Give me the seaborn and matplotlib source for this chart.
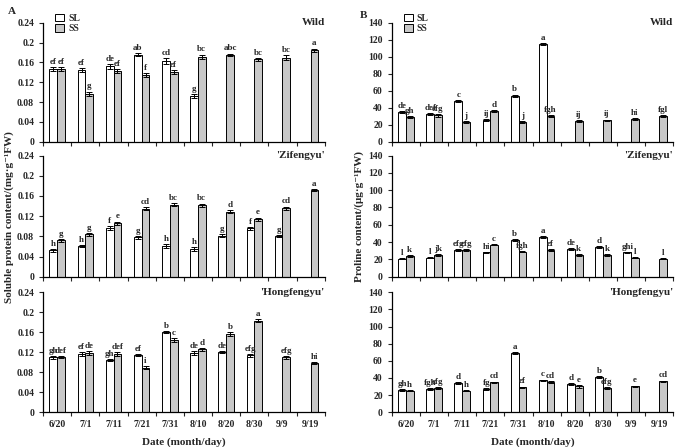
import numpy as np
import pandas as pd
import matplotlib
matplotlib.use("Agg")
import matplotlib.pyplot as plt
from matplotlib.patches import Patch
from matplotlib.ticker import FormatStrFormatter, FixedLocator
import seaborn as sns

nan = np.nan
dates = ["6/20", "7/1", "7/11", "7/21", "7/31", "8/10", "8/20", "8/30", "9/9", "9/19"]

# A - soluble protein (mg/g FW)
prot_wild_sl = [0.147, 0.145, 0.152, 0.176, 0.163, 0.092, nan, nan, nan, nan]
prot_wild_ss = [0.147, 0.097, 0.142, 0.135, 0.141, 0.171, 0.175, 0.166, 0.169, 0.185]
prot_wild_sl_err = [0.004, 0.004, 0.005, 0.003, 0.006, 0.004, 0, 0, 0, 0]
prot_wild_ss_err = [0.004, 0.004, 0.004, 0.004, 0.004, 0.005, 0.003, 0.003, 0.005, 0.003]
prot_wild_sl_let = ["ef", "ef", "de", "ab", "cd", "g", "", "", "", ""]
prot_wild_ss_let = ["ef", "g", "ef", "f", "ef", "bc", "abc", "bc", "bc", "a"]

prot_zif_sl = [0.052, 0.061, 0.096, 0.078, 0.060, 0.054, 0.081, 0.096, 0.080, nan]
prot_zif_ss = [0.072, 0.084, 0.106, 0.135, 0.143, 0.142, 0.129, 0.114, 0.136, 0.171]
prot_zif_sl_err = [0.003, 0.002, 0.004, 0.003, 0.004, 0.004, 0.003, 0.003, 0.002, 0]
prot_zif_ss_err = [0.003, 0.003, 0.003, 0.003, 0.003, 0.003, 0.003, 0.003, 0.003, 0.002]
prot_zif_sl_let = ["h", "h", "f", "g", "h", "h", "g", "f", "g", ""]
prot_zif_ss_let = ["g", "g", "e", "cd", "bc", "bc", "d", "e", "cd", "a"]

prot_hong_sl = [0.110, 0.116, 0.105, 0.115, 0.160, 0.119, 0.120, 0.114, nan, nan]
prot_hong_ss = [0.111, 0.118, 0.117, 0.089, 0.145, 0.126, 0.157, 0.183, 0.110, 0.099]
prot_hong_sl_err = [0.003, 0.004, 0.002, 0.002, 0.002, 0.004, 0.002, 0.003, 0, 0]
prot_hong_ss_err = [0.002, 0.004, 0.004, 0.003, 0.004, 0.003, 0.004, 0.003, 0.003, 0.002]
prot_hong_sl_let = ["gh", "ef", "gh", "ef", "b", "de", "de", "efg", "", ""]
prot_hong_ss_let = ["def", "de", "def", "i", "c", "d", "b", "a", "efg", "hi"]

# B - proline (ug/g FW)
pro_wild_sl = [35, 33, 48, 25, 54, 115, nan, nan, nan, nan]
pro_wild_ss = [29, 31, 23, 36, 23, 30, 24, 25, 27, 30]
pro_wild_sl_err = [1.0, 1.0, 1.0, 1.2, 1.5, 1.0, 0, 0, 0, 0]
pro_wild_ss_err = [1.0, 1.5, 1.0, 1.5, 1.0, 1.2, 1.0, 1.0, 1.2, 1.5]
pro_wild_sl_let = ["de", "def", "c", "ij", "b", "a", "", "", "", ""]
pro_wild_ss_let = ["gh", "efg", "j", "d", "j", "fgh", "ij", "ij", "hi", "fgl"]

pro_zif_sl = [21, 22, 31, 28, 42, 46, 32, 34, 28, nan]
pro_zif_ss = [24, 25, 31, 37, 29, 31, 25, 25, 22, 21]
pro_zif_sl_err = [0.8, 0.8, 0.8, 0.8, 1.0, 0.8, 0.8, 1.0, 0.8, 0]
pro_zif_ss_err = [0.8, 0.8, 0.8, 0.8, 0.8, 0.8, 0.8, 0.8, 0.8, 0.8]
pro_zif_sl_let = ["l", "l", "efg", "hi", "b", "a", "de", "d", "ghi", ""]
pro_zif_ss_let = ["k", "jk", "efg", "c", "fgh", "ef", "k", "k", "l", "l"]

pro_hong_sl = [26, 27, 34, 27, 69, 37, 33, 41, nan, nan]
pro_hong_ss = [25, 28, 25, 35, 29, 35, 30, 28, 30, 36]
pro_hong_sl_err = [0.8, 0.8, 0.8, 0.8, 1.2, 1.0, 0.8, 1.0, 0, 0]
pro_hong_ss_err = [0.8, 0.8, 0.8, 0.8, 0.8, 1.5, 1.5, 1.0, 1.0, 0.8]
pro_hong_sl_let = ["gh", "fgh", "d", "fg", "a", "c", "d", "b", "", ""]
pro_hong_ss_let = ["h", "efg", "h", "cd", "ef", "cd", "e", "efg", "e", "cd"]

panels = [
    # (row, col, title, sl, ss, sl_err, ss_err, sl_let, ss_let)
    (0, 0, "Wild", prot_wild_sl, prot_wild_ss, prot_wild_sl_err, prot_wild_ss_err, prot_wild_sl_let, prot_wild_ss_let),
    (1, 0, "'Zifengyu'", prot_zif_sl, prot_zif_ss, prot_zif_sl_err, prot_zif_ss_err, prot_zif_sl_let, prot_zif_ss_let),
    (2, 0, "'Hongfengyu'", prot_hong_sl, prot_hong_ss, prot_hong_sl_err, prot_hong_ss_err, prot_hong_sl_let, prot_hong_ss_let),
    (0, 1, "Wild", pro_wild_sl, pro_wild_ss, pro_wild_sl_err, pro_wild_ss_err, pro_wild_sl_let, pro_wild_ss_let),
    (1, 1, "'Zifengyu'", pro_zif_sl, pro_zif_ss, pro_zif_sl_err, pro_zif_ss_err, pro_zif_sl_let, pro_zif_ss_let),
    (2, 1, "'Hongfengyu'", pro_hong_sl, pro_hong_ss, pro_hong_sl_err, pro_hong_ss_err, pro_hong_sl_let, pro_hong_ss_let),
]

sns.set_style("ticks")
plt.rcParams['font.family'] = ['Liberation Serif', 'DejaVu Serif']
plt.rcParams['font.weight'] = 'bold'

fig = plt.figure(figsize=(6.85, 4.47), dpi=100)
row_bottoms = [0.683, 0.381, 0.078]
row_heights = [0.266, 0.271, 0.268]
col_lefts = [0.063, 0.572]
col_width = 0.411
palette = {"SL": "white", "SS": "#c8c8c8"}

for row, col, title, sl, ss, sl_err, ss_err, sl_let, ss_let in panels:
    ax = fig.add_axes([col_lefts[col], row_bottoms[row], col_width, row_heights[row]])
    df = pd.DataFrame({
        "date": dates * 2,
        "value": list(sl) + list(ss),
        "type": ["SL"] * len(dates) + ["SS"] * len(dates),
    }).dropna()
    sns.barplot(data=df, x="date", y="value", hue="type", order=dates, hue_order=["SL", "SS"],
                palette=palette, edgecolor="black", linewidth=0.7, width=0.55,
                errorbar=None, legend=False, ax=ax)

    errs = [sl_err, ss_err]
    lets = [sl_let, ss_let]
    ymax = 0.24 if col == 0 else 140
    pad = ymax * 0.01
    for p in ax.patches:
        h = p.get_height()
        if np.isnan(h):
            continue
        cx = p.get_x() + p.get_width() / 2
        i = int(round(cx))
        k = 0 if cx < i else 1
        e = errs[k][i]
        ax.errorbar(cx, h, yerr=e, color="black", capsize=2, elinewidth=0.7, capthick=0.7)
        ax.text(cx, h + e + pad, lets[k][i], ha="center", va="bottom", fontsize=6.5, fontweight="bold")

    ax.set_ylim(0, ymax)
    if col == 0:
        ax.set_yticks(np.arange(0, 0.2401, 0.04))
        ax.yaxis.set_major_formatter(FormatStrFormatter("%g"))
    else:
        ax.set_yticks(np.arange(0, 141, 20))
    ax.set_xlim(-0.5, len(dates) - 0.5)
    ax.xaxis.set_minor_locator(FixedLocator(np.arange(-0.5, len(dates), 1.0)))
    ax.tick_params(axis="x", which="major", length=0, labelsize=7, pad=6)
    ax.tick_params(axis="x", which="minor", length=3, direction="out", width=0.8)
    ax.tick_params(axis="y", length=3, direction="out", width=0.8, labelsize=7)
    for lab in ax.get_xticklabels() + ax.get_yticklabels():
        lab.set_fontweight("bold")
    if row != 2:
        ax.set_xticklabels([])
    ax.set_xlabel("")
    ax.set_ylabel("")
    sns.despine(ax=ax)
    for s in ["left", "bottom"]:
        ax.spines[s].set_linewidth(0.9)
        ax.spines[s].set_color("black")
    ax.text(1.0, 1.0, title, transform=ax.transAxes, ha="right", va="center",
            fontsize=8, fontweight="bold")
    if row == 0:
        handles = [Patch(facecolor=palette[t], edgecolor="black", linewidth=0.7) for t in ["SL", "SS"]]
        ax.legend(handles, ["SL", "SS"], loc="upper left", bbox_to_anchor=(0.03, 1.11),
                  frameon=False, fontsize=7, handlelength=0.9, handleheight=0.8,
                  labelspacing=0.15, handletextpad=0.4, borderaxespad=0)
    if row == 2:
        ax.set_xlabel("Date (month/day)", fontsize=8, fontweight="bold", labelpad=6)

fig.text(0.014, 0.515, "Soluble protein content/(mg·g⁻¹FW)", rotation=90, ha="center", va="center",
         fontsize=8, fontweight="bold")
fig.text(0.524, 0.515, "Proline content/(μg·g⁻¹FW)", rotation=90, ha="center", va="center",
         fontsize=8, fontweight="bold")
fig.text(0.012, 0.985, "A", ha="left", va="top", fontsize=8, fontweight="bold")
fig.text(0.525, 0.975, "B", ha="left", va="top", fontsize=8, fontweight="bold")

fig.savefig("out.png", dpi=100)
